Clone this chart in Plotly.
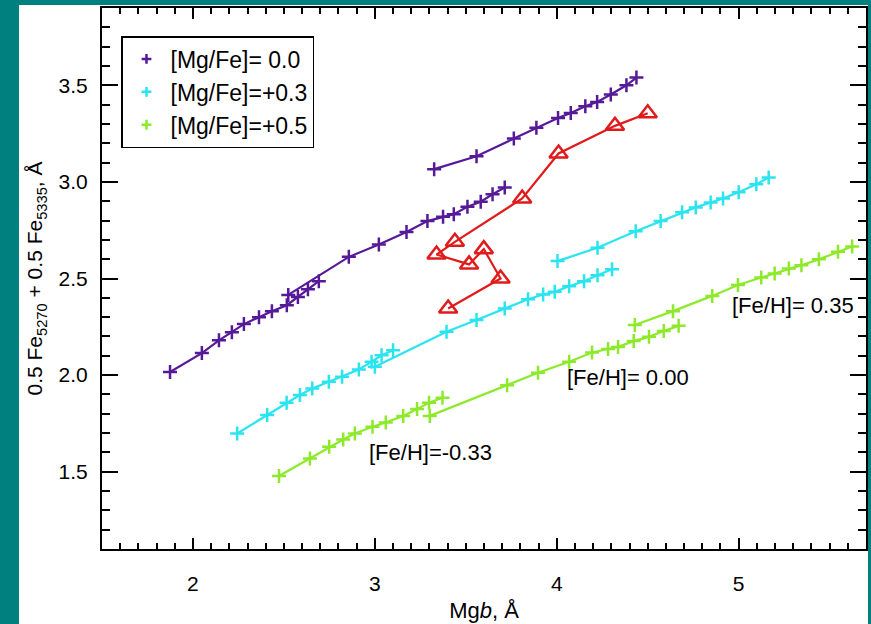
import plotly.graph_objects as go

# ---------------- data ----------------
# [Mg/Fe] = 0.0 (purple), three metallicities
p_m033_x = [1.874, 2.049, 2.143, 2.214, 2.280, 2.363, 2.434, 2.516, 2.577, 2.632, 2.692]
p_m033_y = [2.016, 2.114, 2.180, 2.222, 2.264, 2.300, 2.331, 2.362, 2.404, 2.445, 2.486]
p_000_x = [2.524, 2.857, 3.022, 3.174, 3.289, 3.375, 3.434, 3.509, 3.582, 3.647, 3.714]
p_000_y = [2.415, 2.612, 2.676, 2.741, 2.797, 2.819, 2.833, 2.871, 2.897, 2.936, 2.971]
p_035_x = [3.326, 3.559, 3.764, 3.888, 4.007, 4.077, 4.157, 4.222, 4.297, 4.383, 4.438]
p_035_y = [3.066, 3.133, 3.224, 3.280, 3.331, 3.357, 3.392, 3.414, 3.452, 3.500, 3.540]

# [Mg/Fe] = +0.3 (cyan)
c_m033_x = [2.243, 2.408, 2.515, 2.588, 2.656, 2.747, 2.820, 2.912, 2.982, 3.037, 3.100]
c_m033_y = [1.698, 1.793, 1.857, 1.897, 1.931, 1.965, 1.991, 2.029, 2.069, 2.103, 2.129]
c_000_x = [3.000, 3.394, 3.559, 3.714, 3.842, 3.925, 3.989, 4.068, 4.150, 4.224, 4.304]
c_000_y = [2.043, 2.224, 2.285, 2.345, 2.393, 2.417, 2.431, 2.460, 2.486, 2.517, 2.548]
c_035_x = [4.004, 4.224, 4.434, 4.571, 4.689, 4.764, 4.846, 4.914, 5.000, 5.097, 5.165]
c_035_y = [2.590, 2.659, 2.745, 2.797, 2.843, 2.868, 2.893, 2.914, 2.947, 2.988, 3.023]

# [Mg/Fe] = +0.5 (green)
g_m033_x = [2.473, 2.643, 2.749, 2.826, 2.890, 2.987, 3.060, 3.156, 3.232, 3.298, 3.372]
g_m033_y = [1.478, 1.569, 1.629, 1.667, 1.698, 1.733, 1.755, 1.789, 1.824, 1.857, 1.883]
g_000_x = [3.302, 3.727, 3.897, 4.068, 4.194, 4.282, 4.337, 4.423, 4.507, 4.588, 4.670]
g_000_y = [1.789, 1.948, 2.012, 2.069, 2.117, 2.135, 2.146, 2.176, 2.198, 2.228, 2.255]
g_035_x = [4.429, 4.639, 4.855, 4.996, 5.124, 5.198, 5.276, 5.345, 5.441, 5.546, 5.624]
g_035_y = [2.259, 2.331, 2.410, 2.466, 2.505, 2.526, 2.552, 2.569, 2.599, 2.638, 2.666]

# observed points (red triangles)
obs_x = [4.50, 4.32, 4.01, 3.81, 3.44, 3.339, 3.518, 3.599, 3.691, 3.403]
obs_y = [3.355, 3.29, 3.147, 2.914, 2.69, 2.624, 2.573, 2.652, 2.50, 2.345]

legend_labels = ["[Mg/Fe]= 0.0", "[Mg/Fe]=+0.3", "[Mg/Fe]=+0.5"]
feh_labels = ["[Fe/H]= 0.35", "[Fe/H]= 0.00", "[Fe/H]=-0.33"]
feh_label_x = [4.95, 4.044, 2.956]
feh_label_y = [2.362, 1.99, 1.602]

x_ticks = [2, 3, 4, 5]
y_ticks = [1.5, 2.0, 2.5, 3.0, 3.5]

# ---------------- styling ----------------
PURPLE = "#561a98"
CYAN = "#2ae4f0"
GREEN = "#8dea2a"
RED = "#e11b1b"
TEAL = "#00807f"
FONT = "Liberation Sans, Arial, Helvetica, sans-serif"

fig = go.Figure()

def add_model(x, y, color):
    fig.add_trace(go.Scatter(
        x=x, y=y, mode="lines+markers", showlegend=False,
        line=dict(color=color, width=2.2),
        marker=dict(symbol="cross-thin", size=10, line=dict(color=color, width=2.5)),
        hoverinfo="skip"))

for xs, ys in [(p_m033_x, p_m033_y), (p_000_x, p_000_y), (p_035_x, p_035_y)]:
    add_model(xs, ys, PURPLE)
for xs, ys in [(c_m033_x, c_m033_y), (c_000_x, c_000_y), (c_035_x, c_035_y)]:
    add_model(xs, ys, CYAN)
for xs, ys in [(g_m033_x, g_m033_y), (g_000_x, g_000_y), (g_035_x, g_035_y)]:
    add_model(xs, ys, GREEN)

fig.add_trace(go.Scatter(
    x=obs_x, y=obs_y, mode="lines+markers", showlegend=False,
    line=dict(color=RED, width=2.2),
    marker=dict(symbol="triangle-up-open", size=16, color=RED, line=dict(color=RED, width=2.5))))

# legend entries (marker only)
for lab, col in zip(legend_labels, [PURPLE, CYAN, GREEN]):
    fig.add_trace(go.Scatter(
        x=[None], y=[None], mode="markers", name=lab,
        marker=dict(symbol="cross-thin", size=7, line=dict(color=col, width=2.5))))

for t, ax, ay in zip(feh_labels, feh_label_x, feh_label_y):
    fig.add_annotation(x=ax, y=ay, xref="x", yref="y", text=t, showarrow=False,
                       xanchor="left", yanchor="middle",
                       font=dict(family=FONT, size=22, color="black"))

# white panel on teal background
W, H = 871, 624
L, R, T, B = 102, 5, 8, 75
pw, ph = W - L - R, H - T - B
fig.add_shape(type="rect", xref="paper", yref="paper", layer="below",
              x0=(19 - L) / pw, x1=(868 - L) / pw,
              y0=-(B + 2) / ph, y1=(H - B - 5) / ph,
              fillcolor="white", line=dict(width=0))

axis_common = dict(showline=True, linecolor="black", linewidth=2, mirror="allticks",
                   ticks="inside", tickcolor="black", tickwidth=2,
                   showgrid=False, zeroline=False,
                   tickfont=dict(family=FONT, size=21, color="black"))

fig.update_xaxes(range=[1.5, 5.7], tickvals=x_ticks, ticktext=[str(v) for v in x_ticks],
                 ticklen=11, ticklabelstandoff=15,
                 minor=dict(ticks="inside", dtick=0.1, ticklen=6, tickwidth=1.5, tickcolor="black"),
                 title=dict(text="Mg<i>b</i>, Å", font=dict(family=FONT, size=22, color="black"),
                            standoff=8),
                 **axis_common)
fig.update_yaxes(range=[1.1, 3.9], tickvals=y_ticks, ticktext=[f"{v:.1f}" for v in y_ticks],
                 ticklen=16, ticklabelstandoff=8,
                 minor=dict(ticks="inside", dtick=0.1, ticklen=8, tickwidth=1.5, tickcolor="black"),
                 title=dict(text="0.5 Fe<sub>5270</sub> + 0.5 Fe<sub>5335</sub>, Å",
                            font=dict(family=FONT, size=21, color="black"), standoff=10),
                 **axis_common)

fig.update_layout(
    width=W, height=H,
    margin=dict(l=L, r=R, t=T, b=B, autoexpand=False),
    paper_bgcolor=TEAL, plot_bgcolor="white",
    font=dict(family=FONT, color="black"),
    legend=dict(x=(121 - L) / pw, y=(H - B - 36) / ph, xanchor="left", yanchor="top",
                bgcolor="white", bordercolor="black", borderwidth=1.5,
                font=dict(family=FONT, size=23, color="black"),
                itemsizing="trace", itemwidth=38, tracegroupgap=0),
)

fig.write_html("out.html")
